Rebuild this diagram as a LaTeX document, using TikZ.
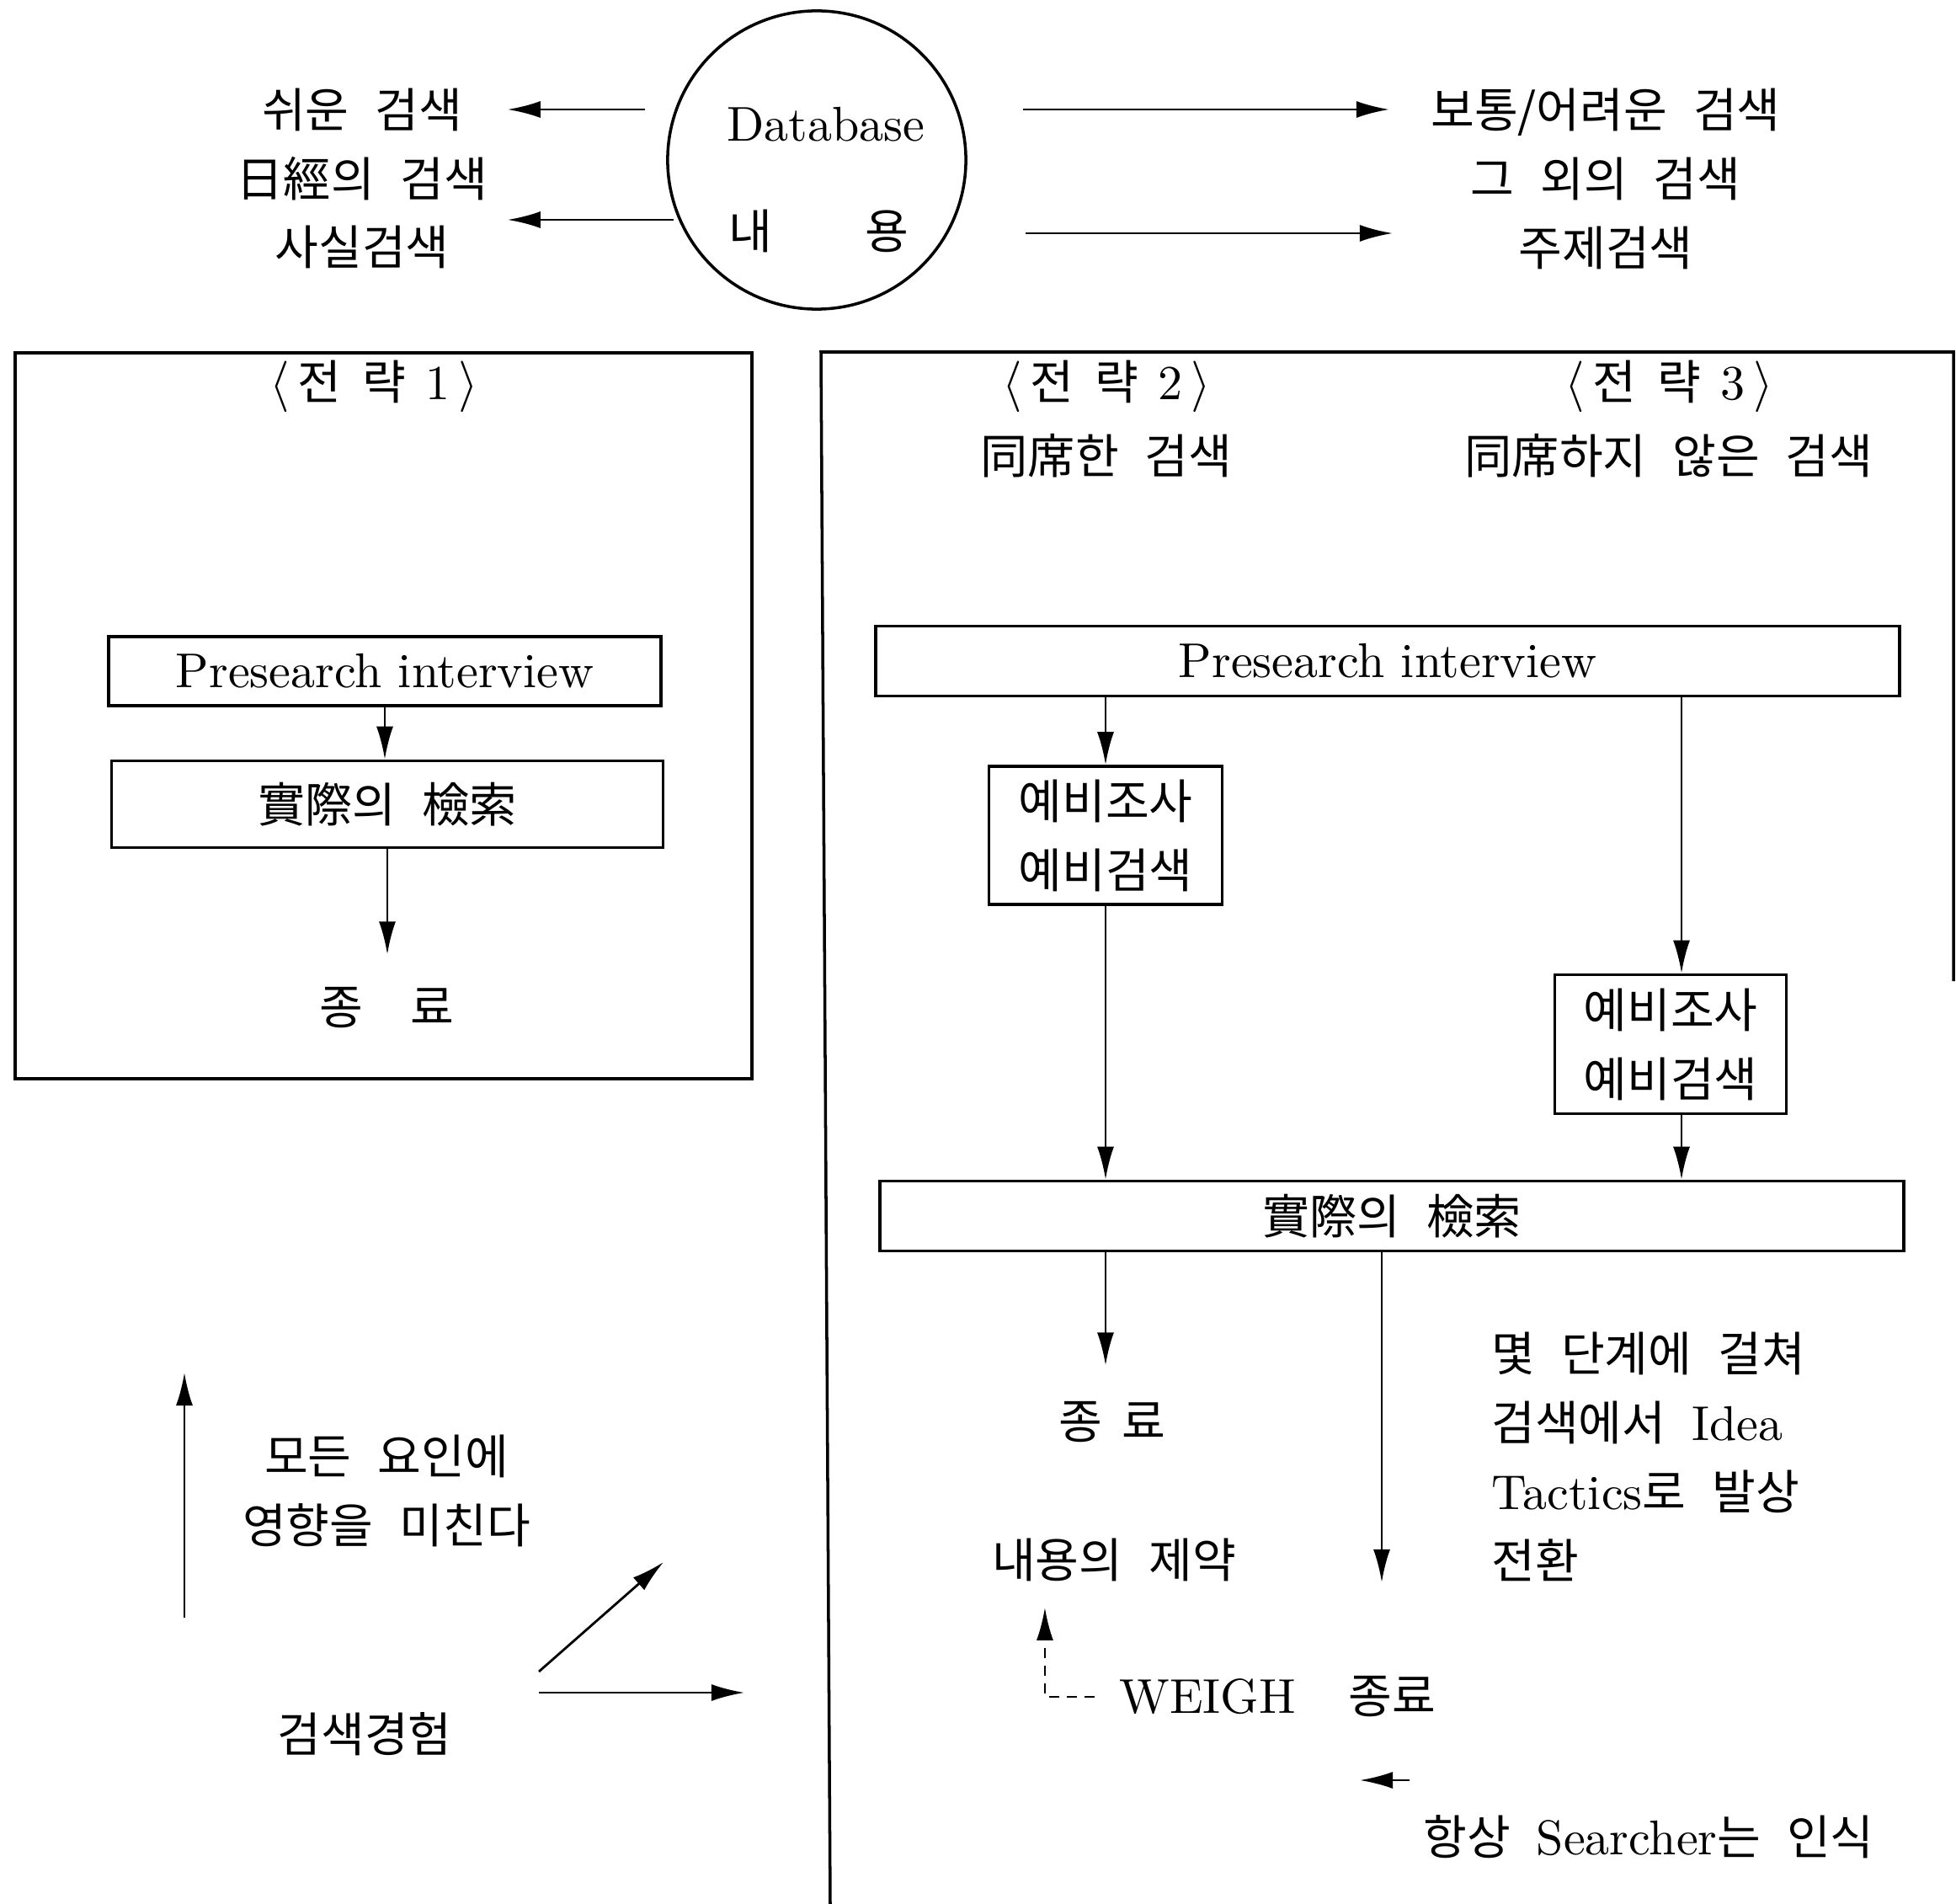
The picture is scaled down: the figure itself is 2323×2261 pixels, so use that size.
\documentclass[tikz,border=0pt]{standalone}
\usepackage{fontspec}
\newfontfamily\kr{Noto Sans CJK KR}
\newfontfamily\latinfont{lmroman10-regular.otf}
\newcommand{\latin}[1]{{\latinfont\fontsize{16.5}{23.3}\selectfont #1}}
\newcommand{\ks}{\hspace{0.55em}}
\usetikzlibrary{arrows.meta}
\usetikzlibrary{positioning}
\tikzset{
  box node/.style={draw,line width=1pt,inner sep=0pt,font=\kr\fontsize{16}{23.3}\selectfont},
  text node/.style={inner sep=0pt,font=\kr\fontsize{16}{23.3}\selectfont},
  frame/.style={-,line width=1pt}
}

\begin{document}
\begin{tikzpicture}[x=0.01cm,y=-0.01cm,->,>={Latex[length=3.9mm,width=2mm]},line width=0.8pt]
	\useasboundingbox (0,0) rectangle (2323,2261);
	% database and kinds of search
	\node [draw,circle,line width=1pt,inner sep=0pt,minimum size=3.54cm] (db) at (970,190) {};
	\node [text node] (dbname) at (981,148) {\latin{Database}};
	\node [text node] (dbcont) at (972,274) {내\hspace{11mm}용};
	\node [text node,align=center] (easy) at (430,212) {쉬운\ks 검색\\日經의\ks 검색\\사실검색};
	\node [text node,align=center] (hard) at (1907,212) {보통/어려운\ks 검색\\그\ks 외의\ks 검색\\주제검색};
	\coordinate (e1) at (766,130);
	\coordinate (e2) at (800,261);
	\coordinate (h1) at (1215,130);
	\coordinate (h2) at (1218,277);
	\draw [shorten >=2.2mm] (e1) -- (e1 -| easy.east);
	\draw [shorten >=2.2mm] (e2) -- (e2 -| easy.east);
	\draw [shorten >=4.8mm] (h1) -- (h1 -| hard.west);
	\draw [shorten >=4.4mm] (h2) -- (h2 -| hard.west);

	% strategy 1
	\draw [frame] (18,419) rectangle (893,1281);
	\node [text node] (s1) at (444,459) {$\langle$\hspace{1mm}전\hspace{2.5mm}략\hspace{2.3mm}\latin{1}\hspace{1mm}$\rangle$};
	\node [box node,minimum width=6.56cm,minimum height=0.82cm] (lpre) at (457,797) {\latin{Presearch interview}};
	\node [box node,minimum width=6.55cm,minimum height=1.03cm] (lreal) at (460,955) {實際의\ks 檢索};
	\node [text node] (lend) at (459,1197) {종\quad 료};
	\draw (lpre.south) -- (lpre.south |- lreal.north);
	\draw [shorten >=3.8mm] (lreal.south) -- (lreal.south |- lend.north);

	% strategy 2 and 3
	\draw [frame] (986,2261) -- (975,418) -- (2320,418) -- (2320,1165);
	\node [text node] (s2) at (1314,459) {$\langle$\hspace{1mm}전\hspace{2.5mm}략\hspace{2.3mm}\latin{2}\hspace{1mm}$\rangle$};
	\node [text node] (s2t) at (1314,541) {同席한\ks 검색};
	\node [text node] (s3) at (1982,459) {$\langle$\hspace{1mm}전\hspace{2.5mm}략\hspace{2.3mm}\latin{3}\hspace{1mm}$\rangle$};
	\node [text node] (s3t) at (1982,541) {同席하지\ks 않은\ks 검색};
	\node [box node,minimum width=12.15cm,minimum height=0.83cm] (rpre) at (1648,785) {\latin{Presearch interview}};
	\node [box node,align=center,minimum width=2.77cm,minimum height=1.64cm] (pre1) at (1313,992) {예비조사\\예비검색};
	\node [box node,align=center,minimum width=2.75cm,minimum height=1.65cm] (pre2) at (1984,1240) {예비조사\\예비검색};
	\node [box node,minimum width=12.15cm,minimum height=0.83cm] (rreal) at (1653,1444) {實際의\ks 檢索};
	\node [text node] (rend) at (1321,1689) {종\hspace{2.4mm}료};
	\node [text node] (limit) at (1323,1852) {내용의\ks 제약};
	\node [text node,align=left,anchor=west] (tactic) at (1770,1730) {몇\ks 단계에\ks 걸쳐\\검색에서\ks \latin{Idea}\\\latin{Tactics}로\ks 발상\\전환};
	\node [text node] (weigh) at (1434,2015) {\latin{WEIGH}};
	\node [text node] (wstop) at (1653,2015) {종료};
	\node [text node] (aware) at (1958,2181) {항상\ks \latin{Searcher}는\ks 인식};
	\coordinate (wend) at (1641,1879);
	\coordinate (sa1) at (1674,2114);
	\coordinate (sa2) at (1615,2114);
	\draw (rpre.south -| pre1.north) -- (pre1.north);
	\draw ([xshift=1.3mm]rpre.south -| pre2.north) -- ([xshift=1.3mm]pre2.north);
	\draw (pre1.south) -- (pre1.south |- rreal.north);
	\draw ([xshift=1.3mm]pre2.south) -- ([xshift=1.3mm]pre2.south |- rreal.north);
	\draw [shorten >=4.2mm] ([xshift=-0.8mm]rreal.south -| rend) -- ([xshift=-0.8mm]rend.north);
	\draw (rreal.south -| wend) -- (wend);
	\draw [dashed,dash pattern=on 1.2mm off 0.9mm] ([xshift=-2.8mm]weigh.west) -| ([xshift=-8.2mm,yshift=-3mm]limit.south);
	\draw (sa1) -- (sa2);

	% experience
	\node [text node,align=center] (allf) at (459,1770) {모든\ks 요인에\\영향을\ks 미친다};
	\node [text node] (exp) at (433,2059) {검색경험};
	\coordinate (up1) at (219,1921);
	\coordinate (up2) at (219,1630);
	\coordinate (dg1) at (640,1985);
	\coordinate (dg2) at (788,1855);
	\coordinate (hz1) at (640,2010);
	\coordinate (hz2) at (884,2010);
	\draw (up1) -- (up2);
	\draw (dg1) -- (dg2);
	\draw (hz1) -- (hz2);
\end{tikzpicture}
\end{document}
